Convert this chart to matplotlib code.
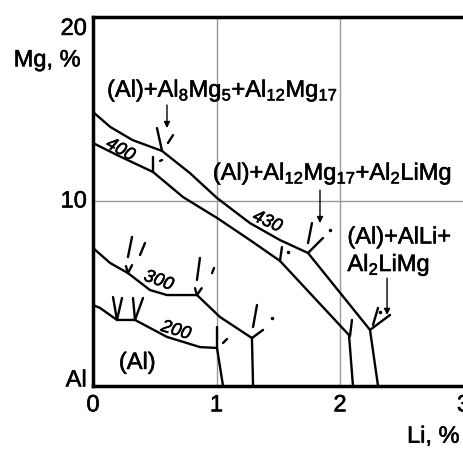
import numpy as np
import matplotlib
matplotlib.use('Agg')
import matplotlib.pyplot as plt
import matplotlib.patheffects as pe

plt.rcParams['font.family'] = ['Liberation Sans', 'DejaVu Sans']
plt.rcParams['mathtext.fontset'] = 'custom'
plt.rcParams['mathtext.rm'] = 'Liberation Sans'

# isotherm boundaries (Li %, Mg %)
upper400_li = [0, 0.14, 0.32, 0.559, 0.785, 1.004, 1.271, 1.514, 1.741, 2.243, 2.308]
upper400_mg = [14.85, 14.04, 13.33, 12.74, 11.54, 10.19, 8.83, 7.91, 7.21, 3.04, 0]
lower400_li = [0, 0.194, 0.486, 0.729, 1.004, 1.271, 1.514, 2.073, 2.105]
lower400_mg = [13.17, 12.52, 11.6, 10.24, 9.11, 7.91, 6.78, 2.76, 0]
line300_li = [0, 0.138, 0.283, 0.462, 0.599, 0.842, 1.028, 1.287, 1.296]
line300_mg = [7.48, 6.67, 6.12, 5.2, 4.93, 4.93, 3.74, 2.6, 0]
line200_li = [0, 0.057, 0.194, 0.34, 0.599, 0.866, 1.004, 1.053]
line200_mg = [4.39, 4.23, 3.58, 3.58, 2.66, 2.11, 2.06, 0]

# tie-line marks near the junctions: (li0, mg0, li1, mg1)
marks = [
    (0.518, 13.98, 0.559, 12.74), (0.607, 13.17, 0.648, 13.60),
    (0.486, 12.41, 0.486, 11.60), (0.543, 12.20, 0.559, 12.25),
    (1.773, 8.83, 1.741, 7.75), (1.741, 7.21, 1.862, 8.02),
    (1.530, 7.53, 1.514, 6.78),
    (2.308, 4.23, 2.267, 3.31), (2.243, 3.04, 2.405, 3.85),
    (2.097, 3.58, 2.081, 2.71),
    (0.316, 8.08, 0.283, 6.99), (0.381, 7.10, 0.421, 7.75),
    (0.267, 6.50, 0.283, 6.12), (0.283, 6.12, 0.316, 6.55),
    (0.866, 6.94, 0.842, 5.75), (0.964, 6.12, 0.980, 6.40),
    (0.826, 5.30, 0.842, 4.93), (0.842, 4.93, 0.880, 5.30),
    (1.328, 4.39, 1.296, 3.20), (1.287, 2.60, 1.377, 3.04),
    (0.162, 4.82, 0.194, 3.58), (0.194, 3.58, 0.235, 4.77),
    (0.324, 4.77, 0.340, 3.58), (0.340, 3.58, 0.405, 4.77),
    (1.004, 3.20, 1.004, 2.06), (1.053, 2.33, 1.085, 2.55),
]
dots = [(1.579, 7.26), (1.919, 8.46), (1.449, 3.69), (2.320, 4.00)]
# arrows from labels: (li, mg_start, mg_end)
arrows = [(0.599, 15.23, 13.98), (1.838, 10.62, 8.83), (2.381, 5.85, 3.85)]

iso_labels = [('400', 0.22, 12.8, -29), ('430', 1.41, 8.9, -24),
              ('300', 0.53, 5.7, -20), ('200', 0.67, 3.0, -17)]

fig = plt.figure(figsize=(4.63, 4.51), dpi=100)
ax = fig.add_axes([93 / 463, 65 / 451, 370.5 / 463, 369 / 451])
ax.set_xlim(0, 3)
ax.set_ylim(0, 20)

ax.axvline(1, color='#999999', lw=1.0, zorder=1)
ax.axvline(2, color='#999999', lw=1.0, zorder=1)
ax.axhline(10, color='#999999', lw=1.0, zorder=1)

kw = dict(color='black', lw=1.7, solid_capstyle='round', zorder=3)
ax.plot(upper400_li, upper400_mg, **kw)
ax.plot(lower400_li, lower400_mg, **kw)
ax.plot(line300_li, line300_mg, **kw)
ax.plot(line200_li, line200_mg, **kw)
for x0, y0, x1, y1 in marks:
    ax.plot([x0, x1], [y0, y1], **kw)
for x, y in dots:
    ax.plot(x, y, 'o', color='black', ms=1.5, zorder=3)
for x, y0, y1 in arrows:
    ax.annotate('', xy=(x, y1), xytext=(x, y0),
                arrowprops=dict(arrowstyle='-|>', color='black', lw=1.0,
                                mutation_scale=9, shrinkA=0, shrinkB=0))

thick = [pe.withStroke(linewidth=0.4, foreground='black')]

for txt, x, y, rot in iso_labels:
    ax.text(x, y, txt, fontsize=13, style='italic', rotation=rot,
            ha='center', va='center', rotation_mode='anchor',
            path_effects=thick)

big = 17
tk = dict(fontsize=big, path_effects=thick)
ax.text(0.36, 1.25, '(Al)', ha='center', va='center', **tk)
ax.text(1.05, 16.0, r'$\mathregular{(Al){+}Al_{8}Mg_{5}{+}Al_{12}Mg_{17}}$',
        ha='center', va='center', **tk)
ax.text(1.94, 11.5, r'$\mathregular{(Al){+}Al_{12}Mg_{17}{+}Al_{2}LiMg}$',
        ha='center', va='center', **tk)
ax.text(2.06, 8.05, '(Al)+AlLi+', ha='left', va='center', **tk)
ax.text(2.06, 6.55, r'$\mathregular{Al_{2}LiMg}$', ha='left', va='center', **tk)

for side in ['left', 'bottom', 'top']:
    ax.spines[side].set_linewidth(2.5)
ax.spines['right'].set_visible(False)
ax.set_xticks([])
ax.set_yticks([])

# axis labels as placed text
for v, lab in [(0, '0'), (1, '1'), (2, '2'), (3, '3')]:
    ax.text(v, -1.05, lab, ha='center', va='center', **tk)
ax.text(-0.05, 10, '10', ha='right', va='center', **tk)
ax.text(-0.05, 19.95, '20', ha='right', va='top', **tk)
ax.text(-0.05, 0.3, 'Al', ha='right', va='center', **tk)
ax.text(-0.37, 17.65, 'Mg, %', ha='center', va='center', **tk)
ax.text(2.97, -2.75, 'Li, %', ha='right', va='center', **tk)

fig.savefig('out.png', dpi=100)
